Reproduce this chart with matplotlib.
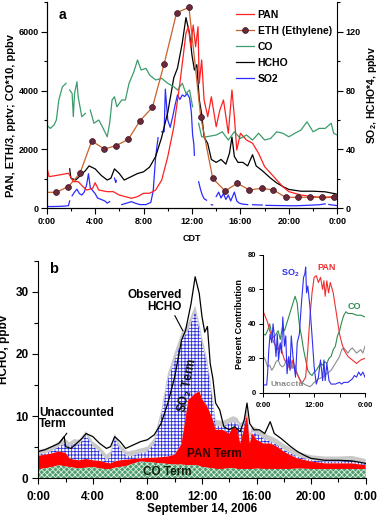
import numpy as np
import matplotlib
matplotlib.use('Agg')
import matplotlib.pyplot as plt
from matplotlib.ticker import MultipleLocator, FuncFormatter

plt.rcParams['font.family'] = ['Liberation Sans', 'DejaVu Sans']
plt.rcParams['font.weight'] = 'bold'
plt.rcParams['axes.labelweight'] = 'bold'
plt.rcParams['mathtext.fontset'] = 'custom'
plt.rcParams['mathtext.rm'] = 'Liberation Sans:bold'
plt.rcParams['mathtext.it'] = 'Liberation Sans:bold'
plt.rcParams['mathtext.bf'] = 'Liberation Sans:bold'
plt.rcParams['hatch.linewidth'] = 0.6
nan = np.nan

# ---------------- Panel a data ----------------
t_pan = [0, 0.2, 1, 1.8, 2.2, 2.6, 3, 3.3, 3.8, 4, 4.3, 5, 5.5, 6, 6.5, 7, 7.5, 8, 8.5, 9, 9.5, 10,
         10.5, 11, 11.5, 11.7, 11.9, 12.1, 12.3, 12.5, 12.6, 12.8, 13, 13.3, 13.6, 14, 14.3, 14.6,
         15, 15.3, 15.5, 15.7, 16, 16.5, 17, 17.5, 18, 18.5, 19, 19.5, 20, 21, 22, 23, 24]
pan = [1415, 1075, 1130, 1190, 905, 905, 735, 620, 680, 870, 620, 565, 565, 450, 395, 340, 395, 510,
       510, 620, 960, 1755, 2770, 4245, 5940, 6170, 5490, 6225, 5490, 6170, 4245, 5040, 3680, 3113,
       3790, 2770, 3340, 3680, 2550, 4020, 3113, 1980, 2550, 2320, 2210, 1870, 1415, 1190, 960, 735,
       565, 450, 395, 360, 395]

t_eth = [0, 0.77, 1.79, 2.75, 3.72, 4.76, 5.73, 6.74, 7.71, 8.73, 9.69, 10.73, 11.75, 12.72, 13.71,
         14.73, 15.74, 16.74, 17.75, 18.72, 19.73, 20.73, 21.74, 22.74, 23.73, 24]
eth_div3 = [543, 543, 736, 1189, 2287, 2015, 2128, 2343, 2977, 3430, 4890, 6645, 6826, 3113, 1019,
            589, 849, 623, 679, 623, 374, 374, 374, 374, 396, 340]

t_co = [0, 0.3, 0.6, 0.8, 1, 1.3, 1.6, 1.75, 1.9, 2.1, 2.2, 2.3, 2.5, 2.6, 2.9, 3.2, 3.4, 3.6, 3.9,
        4.3, 4.6, 5, 5.2, 5.4, 5.6, 5.8, 6.2, 6.5, 6.8, 7.2, 7.5, 7.8, 8.2, 8.5, 9, 9.5, 10, 10.5,
        10.8, 11.2, 11.5, 11.8, 12.05, 12.3, 12.55, 12.8, 13.2, 14, 14.5, 15, 15.5, 16, 16.5, 17,
        17.5, 18, 18.5, 19, 19.5, 20, 20.5, 21, 21.5, 22, 22.5, 23, 23.5, 23.7, 24]
co_x10 = [2830, 2715, 2830, 3000, 3680, 4130, 4245, nan, 4020, 3905, 3113, 3905, 4300, 3790, 3113,
          3226, nan, 3340, 2890, 3000, 2770, 2430, 2890, 3680, 3790, 3450, 3680, 3680, 4245, 4640,
          5040, 4700, 4755, 4530, 4360, 4415, 4245, 4130, 4020, 4245, 3905, 4020, 3450, nan, 2890,
          2430, 2430, 2490, 2600, 2320, 2600, 2375, 2490, 2320, 2550, 2320, 2375, 2600, 2550, 2430,
          2550, 2660, 2940, 2600, 2715, 2715, 2890, 2550, 2490]

t_so2 = [0, 0.5, 1, 1.5, 1.8, 1.9, 1.95, 2.1, 2.3, 2.5, 2.7, 2.9, 3.1, 3.3, 3.45, 3.6, 3.8, 4.0, 4.2,
         4.5, 4.8, 5.0, 5.2, 5.4, 5.6, 5.7, 5.75, 5.9, 6.2, 6.6, 7.0, 7.3, 7.7, 8.2, 8.6, 8.8, 9.0,
         9.2, 9.35, 9.5, 9.7, 9.8, 9.9, 10.0, 10.2, 10.4, 10.6, 10.8, 11.0, 11.2, 11.4, 11.6, 11.8,
         11.95, 12.05, 12.15, 12.2, 12.3, 12.55, 12.7, 12.85, 13.0, 13.2, 13.4, 13.6, 13.7, 13.8,
         14.0, 14.2, 14.4, 14.6, 14.8, 15.0, 15.2, 15.5, 15.7, 15.9, 16.2, 16.6, 16.8, 17.0, 17.8,
         17.9, 18.1, 19.5, 20.5, 21.5, 22.5, 23.0, 23.1, 23.3, 23.8, 24]
so2 = [1.2, 1.2, 1.3, 1.5, 1.8, 5.0, nan, 8.5, 11, 13, 10, 9, 11, 16, 23.5, 14, 12, 10, 7, 6, 5, 3.5,
       4.5, nan, 20.5, 17.5, 19, nan, 2.5, 3.5, 4.5, 3.5, 2.5, 2.5, 4, 12, 35, 48, nan, 52, 52, 81,
       70, 60, 55, 62, 70, 77, 74, 77, 76, 78, 75, 65, 50, 44, 36, nan, 18, 13, 9, 6.5, 5.5, nan,
       2.5, 2.2, nan, 8, 11, 7, 10, 6, 9, 5, 11, 5, 3.5, 2.8, 2.5, nan, 2.4, 2.2, nan, 2.0, 1.8,
       1.7, 2.0, 2.4, 3.0, nan, 2.6, 2.0, 1.8]

# Observed HCHO (ppbv), used in both panels (panel a shows HCHO*4)
t_hcho = [0, 0.5, 1, 1.5, 1.9, 2.0, 2.4, 2.8, 3.2, 3.5, 4, 4.5, 5, 5.3, 5.6, 6, 6.4, 7, 7.5, 8, 8.5,
          9, 9.5, 10, 10.5, 10.8, 11.2, 11.5, 11.8, 12, 12.2, 12.4, 12.6, 12.8, 13, 13.3, 13.6, 14,
          14.4, 14.8, 15.1, 15.3, 15.5, 15.8, 16.2, 16.6, 17, 17.3, 17.8, 18.5, 19, 19.5, 20, 21,
          22, 23, 24]
hcho = [4.3, 4.6, 5.1, 5.6, 6.7, 5.1, 4.8, 5.6, 6.4, 7.2, 6.7, 5.6, 4.8, 5.1, 6.7, 5.9, 4.8, 5.4,
        5.9, 6.2, 7.0, 8.8, 12.1, 16.3, 22.2, 23.8, 28.1, 32.4, 29.7, 26.0, 23.5, 24.4, 18.5, 16.0,
        12.1, 11.0, 8.3, 7.8, 8.3, 7.5, 9.4, 12.1, 8.8, 7.8, 7.8, 7.2, 9.1, 7.2, 6.4, 5.1, 4.3, 3.7,
        3.2, 2.9, 2.9, 2.8, 2.4]

# ---------------- Panel b stacked terms (cumulative levels, ppbv) ----------------
t_b = [0, 0.5, 1, 1.5, 2, 2.3, 2.6, 3, 3.5, 4, 4.5, 5, 5.3, 5.6, 6, 6.5, 7, 7.5, 8, 8.5, 9, 9.5, 10,
       10.5, 11, 11.5, 11.8, 12, 12.4, 12.8, 13, 13.5, 14, 14.3, 14.6, 14.8, 15, 15.3, 15.5, 15.7,
       16, 16.5, 17, 17.5, 18, 18.5, 19, 20, 21, 22, 23, 24]
level_co = [1.45, 1.6, 1.8, 2.1, 1.9, 1.8, 1.7, 1.6, 1.7, 1.8, 1.6, 1.45, 1.5, 1.7, 1.8, 2.0, 2.4, 2.7,
            2.6, 2.5, 2.4, 2.3, 2.2, 2.2, 2.1, 2.1, 2.0, 1.8, 1.7, 1.6, 1.5, 1.5, 1.6, 1.6, 1.5, 1.5,
            1.5, 1.5, 1.5, 1.5, 1.55, 1.5, 1.5, 1.5, 1.5, 1.5, 1.55, 1.5, 1.45, 1.5, 1.5, 1.45]
level_pan = [3.6, 3.8, 4.0, 4.3, 4.1, 3.2, 3.0, 2.9, 3.1, 2.9, 2.8, 2.5, 2.4, 2.7, 2.9, 3.0, 3.1, 3.2,
             3.3, 3.3, 3.4, 3.5, 3.8, 5.5, 12.6, 13.6, 14.0, 12.8, 11.5, 9.4, 7.8, 7.8, 7.2, 8.3, 7.8,
             5.6, 7.2, 10.2, 5.6, 7.2, 6.2, 5.6, 5.6, 5.1, 4.3, 3.7, 3.2, 2.7, 2.4, 2.4, 2.4, 2.1]
level_so2 = [3.8, 4.0, 4.4, 5.1, 5.6, 5.0, 5.6, 5.4, 7.0, 5.1, 4.3, 2.9, 3.5, 6.5, 4.6, 3.5, 3.7, 4.0,
             4.3, 5.6, 9.9, 15.8, 19.0, 22.2, 23.8, 26.8, 24.0, 21.7, 18.0, 12.1, 8.5, 8.3, 8.8, 9.1,
             8.8, 8.0, 8.3, 10.4, 6.2, 7.5, 7.2, 6.4, 5.9, 5.4, 4.6, 4.0, 3.5, 2.9, 2.7, 2.7, 2.8, 2.4]
level_unacc = [4.6, 4.8, 5.2, 5.9, 6.3, 5.8, 6.3, 6.2, 7.6, 5.9, 5.1, 3.8, 4.3, 7.2, 5.4, 4.3, 4.5, 4.8,
               5.1, 6.4, 10.8, 16.8, 20.2, 23.4, 25.0, 27.8, 25.0, 22.7, 19.0, 13.0, 9.4, 9.2, 9.7,
               10.0, 9.7, 8.9, 9.1, 11.2, 7.2, 8.4, 8.1, 7.3, 6.8, 6.3, 5.5, 4.9, 4.3, 3.7, 3.5, 3.5,
               3.6, 3.1]

# ---------------- Inset: percent contribution ----------------
t_ipan = [0, 0.5, 1, 1.5, 2, 2.5, 3, 3.5, 4, 4.5, 5, 5.5, 6, 6.5, 7, 7.5, 8, 8.5, 9, 9.5, 10, 10.5, 11,
          11.5, 12, 12.5, 13, 13.5, 14, 14.3, 14.6, 15, 15.4, 15.8, 16.5, 17, 17.5, 18, 18.5, 19,
          19.5, 20, 21, 22, 22.5, 23, 24]
pct_pan = [47, 44, 41, 36, 33, 29, 27, 25, 28, 23, 19, 17, 15, 14, 19, 13, 11, 8, 5, 7, 9, 25, 44, 58,
           67, 68, 64, 67, 60, 65, 56, 65, 58, 64, 58, 50, 42, 34, 29, 25, 23, 21, 19, 17, 18, 19, 20]
t_iso2 = [0, 0.8, 1, 1.3, 1.6, 2, 2.3, 2.6, 3, 3.3, 3.6, 4, 4.3, 4.6, 5, 5.3, 5.6, 6, 6.3, 6.6, 7, 7.3,
          7.6, 8, 8.5, 9, 9.5, 9.8, 10, 10.2, 10.5, 11, 11.5, 12, 12.5, 13, 13.5, 14, 14.3, 14.6, 15,
          15.5, 16, 17, 18, 18.5, 19, 20, 21, 21.5, 22, 22.5, 23, 23.5, 24]
pct_so2 = [4.5, 4.5, 11, 25, 34, 29, 40, 33, 21, 34, 19, 29, 23, 44, 27, 33, 11, 21, 13, 33, 21, 15, 9,
           29, 34, 52, 67, 69, 73, 58, 62, 50, 33, 15, 5, 9, 19, 7, 19, 7, 17, 7, 5, 5, 6, 5, 6, 6, 8,
           10, 9, 12, 10, 12, 9]
t_ico = [0, 0.5, 1, 1.5, 2, 2.5, 3, 3.5, 4, 4.5, 5, 5.5, 6, 6.5, 7, 7.5, 8, 8.3, 8.6, 9, 9.5, 10, 10.5,
         11, 11.5, 12, 12.5, 13, 13.5, 14, 14.5, 15, 15.5, 16, 16.5, 17, 17.5, 18, 18.5, 19, 19.5, 20,
         21, 22, 23, 24]
pct_co = [34, 33.5, 36, 40, 34, 32, 34, 36, 31, 38, 36, 40, 44, 48, 52, 56, 52, 44, 38, 33, 25, 19, 13,
          11, 10, 12, 13, 15, 17, 16, 18, 17, 20, 21, 25, 27, 33, 36, 41, 45, 47, 46, 46, 45, 45, 44]
t_iun = [0, 0.5, 1, 1.5, 2, 2.5, 3, 3.5, 4, 4.5, 5, 5.5, 6, 6.5, 7, 7.5, 8, 9, 10, 11, 11.5, 12, 13, 14,
         15, 16, 17, 18, 18.5, 19, 20, 20.5, 21, 22, 23, 23.5, 24]
pct_unacc = [21, 19, 15, 16, 13, 15, 18, 19, 16, 15, 16, 20, 16, 19, 14, 16, 11, 6, 4.5, 3.5, 4.5, 6,
             8, 9, 11, 13, 17, 21, 25, 26, 23, 25, 26, 23, 25, 23, 27]

hour_ticks = [0, 4, 8, 12, 16, 20, 24]
inset_ticks = [0, 12, 24]


def hfmt(x, pos):
    return f"{int(round(x)) % 24}:00"


fig = plt.figure(figsize=(3.78, 5.24), dpi=100)

# ================= Panel a =================
ax = fig.add_axes([0.1235, 0.6025, 0.7688, 0.3931])
ax2 = ax.twinx()
ax.set_zorder(ax2.get_zorder() + 1)
ax.patch.set_visible(False)

t_h = np.array(t_hcho)
h_arr = np.array(hcho)
mask = t_h >= 1.85
l_so2, = ax2.plot(t_so2, so2, color='#2b2bff', lw=0.9)
l_hcho, = ax2.plot(t_h[mask], h_arr[mask] * 4, color='black', lw=0.9)
l_co, = ax.plot(t_co, co_x10, color='#3c9c6c', lw=0.9)
l_pan, = ax.plot(t_pan, pan, color='#ff2020', lw=0.9)
l_eth, = ax.plot(t_eth, eth_div3, color='#c8622c', lw=0.9, marker='o', ms=4.2,
                 mfc='#6a2a3c', mec='#3a1020', mew=0.5, markevery=list(range(1, len(t_eth) - 1)))

ax.set_xlim(0, 24)
ax.set_ylim(0, 7000)
ax2.set_ylim(0, 140)
ax.set_xticks(hour_ticks)
ax.xaxis.set_minor_locator(MultipleLocator(2))
ax.xaxis.set_major_formatter(FuncFormatter(hfmt))
ax.yaxis.set_major_locator(MultipleLocator(2000))
ax.yaxis.set_minor_locator(MultipleLocator(1000))
ax2.yaxis.set_major_locator(MultipleLocator(40))
ax2.yaxis.set_minor_locator(MultipleLocator(20))
for a in (ax, ax2):
    a.spines['top'].set_visible(False)
    a.tick_params(which='major', length=4, width=0.8, labelsize=6.5, pad=2)
    a.tick_params(which='minor', length=2.5, width=0.8)
ax.spines['right'].set_visible(False)
ax.set_xlabel('CDT', fontsize=6.5, labelpad=6)
ax.set_ylabel('PAN, ETH/3, pptv; CO*10, ppbv', fontsize=8)
ax.yaxis.set_label_coords(-0.105, 0.45)
ax2.set_ylabel('SO$_2$, HCHO*4, ppbv', fontsize=7.5)
ax2.yaxis.set_label_coords(1.097, 0.55)
ax.text(1.3, 6560, 'a', fontsize=10, fontweight='bold', ha='center', va='center')

leg = ax.legend([l_pan, l_eth, l_co, l_hcho, l_so2],
                ['PAN', 'ETH (Ethylene)', 'CO', 'HCHO', 'SO2'],
                loc='upper left', bbox_to_anchor=(0.652, 0.962), frameon=False,
                fontsize=7.5, handlelength=1.7, handletextpad=0.35, labelspacing=0.57,
                borderpad=0, borderaxespad=0)

# ================= Panel b =================
axb = fig.add_axes([0.1013, 0.0872, 0.8661, 0.4155])
zero = np.zeros(len(t_b))
axb.fill_between(t_b, level_so2, level_unacc, facecolor='#c9c9c9', edgecolor='none', lw=0)
axb.fill_between(t_b, level_pan, level_so2, facecolor='white', edgecolor='#2a2ad8',
                 hatch='+++++', lw=0)
axb.fill_between(t_b, level_co, level_pan, facecolor='#ff0000', edgecolor='none', lw=0)
axb.fill_between(t_b, zero, level_co, facecolor='#4f9d6c', edgecolor='#dcefe2',
                 hatch='xxxxxx', lw=0)
axb.plot(t_hcho, hcho, color='black', lw=0.9)

axb.set_xlim(0, 24)
axb.set_ylim(0, 35)
axb.set_xticks(hour_ticks)
axb.xaxis.set_minor_locator(MultipleLocator(2))
axb.xaxis.set_major_formatter(FuncFormatter(hfmt))
axb.yaxis.set_major_locator(MultipleLocator(10))
axb.yaxis.set_minor_locator(MultipleLocator(5))
axb.spines['top'].set_visible(False)
axb.spines['right'].set_visible(False)
axb.tick_params(which='major', length=4, width=0.8, labelsize=8.5, pad=3)
axb.tick_params(axis='x', which='major', pad=5)
axb.tick_params(which='minor', length=3, width=0.8)
axb.set_xlabel('September 14, 2006', fontsize=8.5, labelpad=0)
axb.set_ylabel('HCHO, ppbv', fontsize=8.5)
axb.yaxis.set_label_coords(-0.085, 0.59)

axb.text(1.1, 33.7, 'b', fontsize=10.5, fontweight='bold', ha='center', va='center')
axb.annotate('Observed\nHCHO', xy=(10.6, 23.7), xytext=(10.5, 28.5), ha='right', va='center',
             fontsize=8.5, fontweight='bold', linespacing=0.95,
             arrowprops=dict(arrowstyle='-', color='black', lw=0.8, shrinkA=0, shrinkB=0,
                             relpos=(0.85, 0.0)))
axb.annotate('Unaccounted\nTerm', xy=(1.6, 5.8), xytext=(0.05, 9.6), ha='left', va='center',
             fontsize=8.5, fontweight='bold', linespacing=0.95,
             arrowprops=dict(arrowstyle='-', color='black', lw=0.8, shrinkA=0, shrinkB=0,
                             relpos=(0.4, 0.0)))
axb.text(10.95, 14.9, 'SO$_2$ Term', fontsize=8.5, rotation=79, ha='center', va='center',
         color='#101010')
axb.text(12.9, 3.9, 'PAN Term', fontsize=8.5, ha='center', va='center', color='#2a0000')
axb.text(9.47, 1.0, 'CO Term', fontsize=8.5, ha='center', va='center', color='#102010')

# ================= Inset =================
axi = fig.add_axes([0.6966, 0.2506, 0.269, 0.2628])
axi.plot(t_iun, pct_unacc, color='#8c8c8c', lw=0.8)
axi.plot(t_ico, pct_co, color='#2e8b50', lw=0.8)
axi.plot(t_ipan, pct_pan, color='#f03030', lw=0.8)
axi.plot(t_iso2, pct_so2, color='#3030f0', lw=0.8)
axi.set_xlim(0, 24)
axi.set_ylim(0, 80)
axi.set_xticks(inset_ticks)
axi.xaxis.set_minor_locator(MultipleLocator(6))
axi.xaxis.set_major_formatter(FuncFormatter(hfmt))
axi.yaxis.set_major_locator(MultipleLocator(20))
axi.spines['top'].set_visible(False)
axi.spines['right'].set_visible(False)
axi.tick_params(which='major', length=3, width=0.7, labelsize=5.5, pad=2)
axi.tick_params(axis='x', which='major', pad=4)
axi.tick_params(which='minor', length=3, width=0.7)
axi.set_ylabel('Percent Contribution', fontsize=6.5, labelpad=3)
axi.text(6.3, 69.5, 'SO$_2$', color='#3030f0', fontsize=6.5, ha='center', va='center')
axi.text(15.0, 73, 'PAN', color='#f03030', fontsize=6.5, ha='center', va='center')
axi.text(21.6, 50, 'CO', color='#2e8b50', fontsize=6.5, ha='center', va='center')
axi.text(1.8, 4.5, 'Unacctd', color='#8c8c8c', fontsize=6, ha='left', va='center')

fig.savefig('out.png', dpi=100)
